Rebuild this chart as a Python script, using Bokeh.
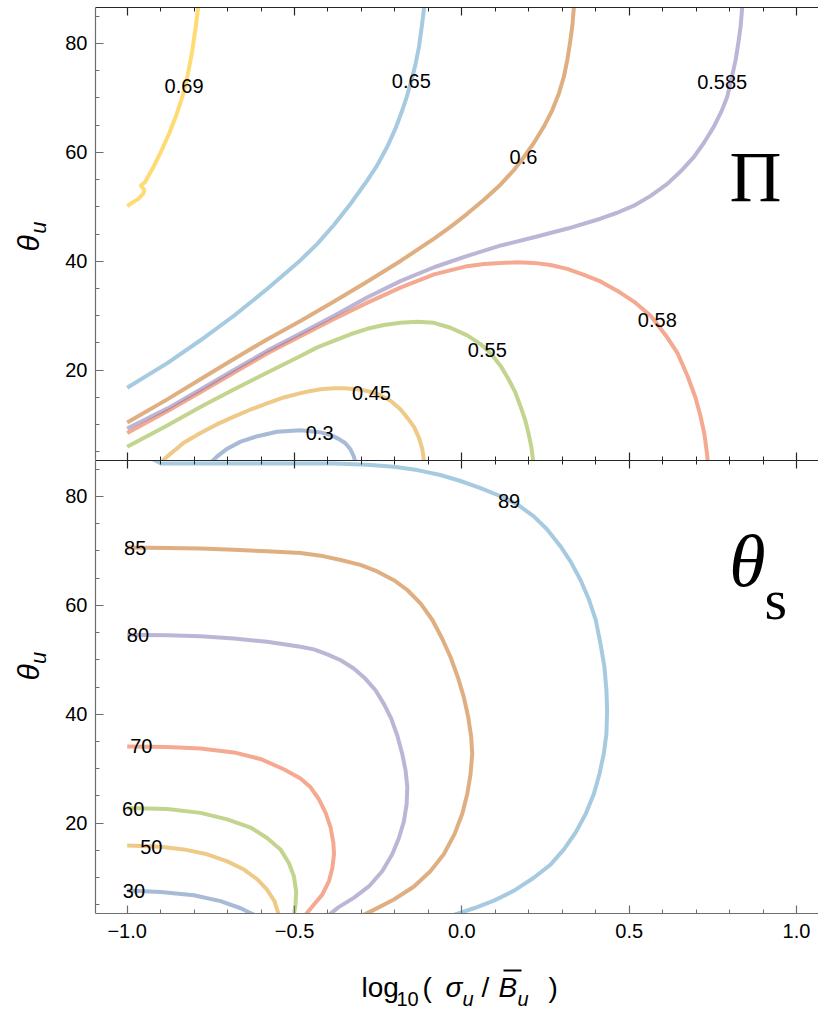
import numpy as np
from bokeh.plotting import figure
from bokeh.layouts import column, row
from bokeh.models import (FixedTicker, CustomJSTickFormatter, LinearAxis, Label,
                          Range1d)
from bokeh.core.properties import value
from bokeh.embed import file_html
from bokeh.resources import INLINE

# ---------------------------------------------------------------------------
# Contour lines of Pi over (log10(sigma_u / B_u), theta_u)
# ---------------------------------------------------------------------------
pi_030_x = [-0.761, -0.731, -0.701, -0.661, -0.611, -0.552, -0.482, -0.452, -0.422,
            -0.392, -0.368, -0.348, -0.333, -0.323, -0.315]
pi_030_y = [2.4, 4.2, 5.6, 6.9, 7.9, 8.7, 9.0, 8.8, 8.6, 8.1, 7.4, 6.6, 5.5, 4.2, 2.4]

pi_045_x = [-0.910, -0.880, -0.831, -0.781, -0.731, -0.681, -0.631, -0.582, -0.532,
            -0.482, -0.452, -0.422, -0.383, -0.353, -0.313, -0.283, -0.248, -0.213,
            -0.183, -0.163, -0.143, -0.128, -0.118, -0.111]
pi_045_y = [2.4, 4.2, 6.7, 8.5, 10.1, 11.5, 12.8, 13.9, 15.0, 15.8, 16.2, 16.5, 16.7,
            16.7, 16.5, 16.2, 15.5, 14.4, 12.8, 11.3, 9.6, 7.6, 5.5, 2.4]

pi_055_x = [-1.000, -0.879, -0.780, -0.680, -0.581, -0.482, -0.432, -0.383, -0.333,
            -0.283, -0.233, -0.183, -0.133, -0.084, -0.034, 0.016, 0.056, 0.086,
            0.116, 0.140, 0.160, 0.175, 0.190, 0.200, 0.208, 0.215]
pi_055_y = [5.95, 9.9, 13.3, 16.5, 19.6, 22.6, 24.2, 25.4, 26.6, 27.6, 28.3, 28.7,
            28.9, 28.7, 27.8, 26.4, 24.8, 23.1, 20.8, 18.3, 15.9, 13.4, 10.7, 8.2,
            5.8, 2.4]

pi_058_x = [-1.000, -0.879, -0.780, -0.680, -0.581, -0.481, -0.382, -0.282, -0.182,
            -0.083, 0.016, 0.066, 0.116, 0.166, 0.215, 0.265, 0.315, 0.365, 0.414,
            0.464, 0.514, 0.564, 0.614, 0.644, 0.674, 0.698, 0.713, 0.725, 0.733,
            0.736]
pi_058_y = [8.5, 12.5, 16.0, 19.6, 23.1, 26.3, 29.4, 32.4, 35.2, 37.6, 39.1, 39.5,
            39.7, 39.8, 39.7, 39.3, 38.6, 37.5, 36.3, 34.6, 32.6, 30.0, 26.0, 23.2,
            19.0, 15.0, 11.6, 8.2, 4.5, 2.1]

pi_0585_x = [-1.000, -0.879, -0.780, -0.680, -0.581, -0.481, -0.382, -0.282, -0.182,
             -0.083, 0.017, 0.117, 0.216, 0.316, 0.414, 0.464, 0.514, 0.564, 0.614,
             0.654, 0.693, 0.723, 0.753, 0.775, 0.793, 0.806, 0.818, 0.826, 0.833,
             0.838]
pi_0585_y = [9.3, 13.0, 16.5, 20.1, 23.6, 26.8, 30.0, 33.4, 36.4, 38.9, 41.0, 42.9,
             44.4, 46.0, 47.8, 48.9, 50.2, 52.0, 54.2, 56.5, 59.1, 61.7, 64.7, 67.4,
             70.2, 73.6, 76.9, 80.0, 83.1, 86.8]

pi_060_x = [-1.000, -0.879, -0.780, -0.680, -0.581, -0.481, -0.382, -0.282, -0.182,
            -0.084, -0.034, 0.016, 0.066, 0.116, 0.155, 0.185, 0.215, 0.245, 0.270,
            0.290, 0.305, 0.315, 0.323, 0.330, 0.335]
pi_060_y = [10.4, 14.7, 18.4, 22.1, 25.7, 29.1, 32.6, 36.3, 40.1, 44.1, 46.3, 48.7,
            51.3, 54.1, 56.7, 59.1, 61.7, 64.7, 67.7, 70.8, 73.9, 76.9, 80.0, 83.1,
            86.8]

pi_065_x = [-1.000, -0.880, -0.781, -0.681, -0.582, -0.482, -0.432, -0.383, -0.333,
            -0.283, -0.253, -0.223, -0.198, -0.178, -0.163, -0.150, -0.138, -0.128,
            -0.121, -0.116, -0.112]
pi_065_y = [16.8, 21.3, 25.5, 30.0, 34.9, 40.2, 43.2, 46.6, 50.5, 54.8, 57.6, 61.0,
            64.4, 67.7, 70.5, 73.3, 76.3, 79.4, 82.5, 84.9, 87.1]

pi_069_x = [-1.000, -0.981, -0.967, -0.951, -0.949, -0.959, -0.947, -0.924, -0.899,
            -0.875, -0.855, -0.835, -0.820, -0.805, -0.795, -0.787]
pi_069_y = [50.1, 50.9, 51.4, 52.5, 53.1, 53.9, 54.5, 57.0, 60.1, 63.4, 66.5, 70.2,
            73.9, 78.8, 83.1, 87.0]

pi_label_text = ["0.3", "0.45", "0.55", "0.58", "0.585", "0.6", "0.65", "0.69"]
pi_label_x = [-0.425, -0.270, 0.076, 0.584, 0.778, 0.184, -0.151, -0.830]
pi_label_y = [8.4, 15.8, 23.8, 29.3, 72.9, 59.1, 73.0, 72.1]

# ---------------------------------------------------------------------------
# Contour lines of theta_s (degrees)
# ---------------------------------------------------------------------------
ts_30_x = [-1.000, -0.900, -0.801, -0.721, -0.661, -0.617, -0.605]
ts_30_y = [7.65, 7.4, 6.8, 5.7, 4.4, 3.1, 2.5]

ts_50_x = [-1.000, -0.900, -0.831, -0.761, -0.701, -0.651, -0.611, -0.582, -0.560,
           -0.547, -0.545]
ts_50_y = [15.9, 15.7, 15.2, 14.3, 13.0, 11.5, 9.7, 7.8, 5.7, 3.2, 2.5]

ts_60_x = [-1.000, -0.880, -0.781, -0.701, -0.631, -0.582, -0.542, -0.517, -0.502,
           -0.495, -0.497, -0.502, -0.503]
ts_60_y = [22.8, 22.6, 21.9, 20.7, 19.2, 17.3, 15.2, 12.7, 10.3, 7.5, 5.1, 3.1, 2.5]

ts_70_x = [-1.000, -0.880, -0.781, -0.681, -0.602, -0.532, -0.482, -0.452, -0.427,
           -0.407, -0.392, -0.384, -0.382, -0.387, -0.397, -0.417, -0.442, -0.467,
           -0.477]
ts_70_y = [34.1, 34.0, 33.7, 33.0, 31.8, 29.9, 28.2, 26.6, 24.4, 21.9, 19.2, 16.4,
           14.3, 11.8, 9.4, 6.9, 5.1, 3.2, 2.5]

ts_80_x = [-1.000, -0.880, -0.781, -0.681, -0.582, -0.482, -0.442, -0.402, -0.362,
           -0.323, -0.288, -0.258, -0.233, -0.211, -0.193, -0.178, -0.168, -0.163,
           -0.165, -0.173, -0.188, -0.208, -0.238, -0.278, -0.323, -0.368, -0.397,
           -0.415]
ts_80_y = [54.6, 54.5, 54.3, 53.9, 53.3, 52.4, 51.9, 51.0, 49.9, 48.4, 46.5, 44.4,
           41.9, 39.2, 36.1, 32.7, 29.6, 26.6, 23.5, 20.4, 17.3, 14.3, 11.2, 8.4,
           6.3, 4.6, 3.2, 2.5]

ts_85_x = [-1.000, -0.880, -0.781, -0.681, -0.582, -0.482, -0.422, -0.362, -0.303,
           -0.253, -0.203, -0.163, -0.123, -0.088, -0.059, -0.034, -0.012, 0.006,
           0.019, 0.028, 0.031, 0.026, 0.016, 0.001, -0.022, -0.054, -0.094, -0.143,
           -0.203, -0.263, -0.293, -0.315]
ts_85_y = [70.6, 70.5, 70.4, 70.2, 69.9, 69.6, 69.1, 68.3, 67.4, 66.2, 64.6, 62.8,
           60.3, 57.3, 53.9, 50.5, 46.8, 43.1, 39.5, 35.8, 32.7, 29.0, 25.3, 21.7,
           18.0, 14.3, 11.2, 8.4, 6.0, 4.1, 3.2, 2.5]

ts_89_x = [-0.930, -0.899, -0.700, -0.482, -0.383, -0.283, -0.203, -0.133, -0.064,
           -0.004, 0.056, 0.116, 0.166, 0.215, 0.255, 0.295, 0.325, 0.355, 0.380,
           0.400, 0.414, 0.426, 0.432, 0.434, 0.432, 0.424, 0.411, 0.394, 0.370,
           0.340, 0.305, 0.265, 0.215, 0.155, 0.096, 0.036, -0.024, -0.060]
ts_89_y = [87.0, 86.0, 86.0, 86.0, 86.0, 85.8, 85.4, 84.8, 83.9, 82.8, 81.5, 80.0,
           78.5, 76.3, 73.9, 70.8, 68.0, 64.6, 61.0, 57.3, 53.0, 48.7, 44.4, 40.7,
           36.4, 32.7, 29.0, 25.3, 21.7, 18.3, 15.2, 12.4, 10.0, 7.6, 5.8, 4.4, 3.2,
           2.5]

ts_label_text = ["30", "50", "60", "70", "80", "85", "89"]
ts_label_x = [-0.980, -0.928, -0.982, -0.958, -0.968, -0.976, 0.141]
ts_label_y = [7.5, 15.7, 22.7, 34.1, 54.5, 70.5, 79.1]

# axis ticks
x_major = [-1.0, -0.5, 0.0, 0.5, 1.0]
x_minor = [-0.9, -0.8, -0.7, -0.6, -0.4, -0.3, -0.2, -0.1,
           0.1, 0.2, 0.3, 0.4, 0.6, 0.7, 0.8, 0.9]
y_major = [20, 40, 60, 80]
y_minor = [5, 10, 15, 25, 30, 35, 45, 50, 55, 65, 70, 75, 85]

# line colours, one per contour level (lowest to highest)
palette = ["#5E81B5", "#E19C24", "#8FB032", "#EB6235",
           "#8778B3", "#C56E1A", "#5D9EC7", "#FFBF00"]

pi_lines = [(pi_030_x, pi_030_y), (pi_045_x, pi_045_y), (pi_055_x, pi_055_y),
            (pi_058_x, pi_058_y), (pi_0585_x, pi_0585_y), (pi_060_x, pi_060_y),
            (pi_065_x, pi_065_y), (pi_069_x, pi_069_y)]
ts_lines = [(ts_30_x, ts_30_y), (ts_50_x, ts_50_y), (ts_60_x, ts_60_y),
            (ts_70_x, ts_70_y), (ts_80_x, ts_80_y), (ts_85_x, ts_85_y),
            (ts_89_x, ts_89_y)]

# ---------------------------------------------------------------------------
# layout constants (pixels)
# ---------------------------------------------------------------------------
SANS = "Liberation Sans"
SERIF = "Liberation Serif"
X_START, X_END = -1.0947, 1.0657
Y_START, Y_END = 3.4377, 86.5623
PAGE_W = 818
STRIP_W = 55          # column holding the rotated y titles
PANEL_W = PAGE_W - STRIP_W
AXIS_PAD = 40         # room for the y tick labels
FRAME_H = 453
TOP_GAP = 7
LOW_GAP = 44          # room for the x tick labels
TOP_H = TOP_GAP + FRAME_H
LOW_H = FRAME_H + LOW_GAP
TITLE_H = 1011 - TOP_H - LOW_H
DARK = "#262626"
GRAY = "#6e6e6e"

blank_fmt = CustomJSTickFormatter(code="return '';")
x_fmt = CustomJSTickFormatter(
    code="return (tick < 0 ? '\u2212' : '') + Math.abs(tick).toFixed(1);")


def make_axis(ticker, color, formatter=None, standoff=8):
    ax = LinearAxis(ticker=ticker, axis_line_color=color, axis_line_width=1.2,
                    major_tick_line_color=color, minor_tick_line_color=color,
                    major_tick_line_width=1.2, minor_tick_line_width=1.0,
                    major_tick_in=8, major_tick_out=0,
                    minor_tick_in=4, minor_tick_out=0)
    if formatter is None:
        ax.formatter = blank_fmt
        ax.major_label_text_font_size = "0px"
        ax.major_label_standoff = 0
    else:
        ax.formatter = formatter
        ax.major_label_text_font = SANS
        ax.major_label_text_font_size = "20px"
        ax.major_label_text_color = "black"
        ax.major_label_standoff = standoff
    return ax


def x_ticks():
    return FixedTicker(ticks=x_major, minor_ticks=x_minor)


def make_panel(height, border_top, border_bottom):
    p = figure(width=PANEL_W, height=height, output_backend="svg",
               toolbar_location=None,
               x_range=Range1d(X_START, X_END), y_range=Range1d(Y_START, Y_END),
               x_axis_location=None, y_axis_location=None,
               min_border_left=AXIS_PAD, min_border_right=0,
               min_border_top=border_top, min_border_bottom=border_bottom,
               outline_line_color=None, background_fill_color="white",
               border_fill_color="white")
    p.grid.visible = False
    y_ticks = FixedTicker(ticks=y_major, minor_ticks=y_minor)
    y_fmt = CustomJSTickFormatter(code="return tick.toFixed(0);")
    p.add_layout(make_axis(y_ticks, GRAY, formatter=y_fmt), "left")
    return p


def make_blank(width, height):
    # a plain canvas whose coordinates are pixels measured from its top-left
    p = figure(width=width, height=height, output_backend="svg",
               toolbar_location=None,
               x_range=Range1d(0, width), y_range=Range1d(height, 0),
               x_axis_location=None, y_axis_location=None, min_border=0,
               outline_line_color=None, background_fill_color="white",
               border_fill_color="white")
    p.grid.visible = False
    return p


def draw_contours(p, lines, lab_x, lab_y, lab_text):
    for (xs, ys), c in zip(lines, palette):
        p.line(xs, ys, line_color=c, line_alpha=0.55, line_width=4,
               line_join="round", line_cap="butt")
    p.text(x=lab_x, y=lab_y, text=lab_text, text_font=value(SANS),
           text_font_size="20px", text_color="black", text_align="center",
           text_baseline="middle")


def add_label(p, x, y, text, size, font=SANS, style="normal", angle=0.0,
              align="left"):
    p.add_layout(Label(x=x, y=y, text=text, text_font=font,
                       text_font_size=size, text_font_style=style,
                       text_color="black", angle=angle, text_align=align,
                       text_baseline="middle"))


def frame_y(py, frame_top):
    """data y of a pixel row, measured from the top of the panel canvas"""
    return Y_END - (py - frame_top) * (Y_END - Y_START) / FRAME_H


def frame_x(px):
    """data x of a pixel column, measured from the left of the page"""
    left = STRIP_W + AXIS_PAD
    return X_START + (px - left) * (X_END - X_START) / (PAGE_W - left)


def add_y_title(strip, mid):
    add_label(strip, 28, mid + 6, "\u03b8", "30px", style="italic",
              angle=np.pi / 2, align="center")
    add_label(strip, 37.5, mid - 10, "u", "22px", style="italic",
              angle=np.pi / 2, align="center")


# ---- upper panel: Pi ------------------------------------------------------
top = make_panel(TOP_H, TOP_GAP, 0)
top.add_layout(make_axis(x_ticks(), DARK), "above")
top.add_layout(make_axis(x_ticks(), DARK), "below")
draw_contours(top, pi_lines, pi_label_x, pi_label_y, pi_label_text)
add_label(top, frame_x(755), frame_y(176, TOP_GAP), "\u03a0", "72px", font=SERIF,
          align="center")

top_strip = make_blank(STRIP_W, TOP_H)
add_y_title(top_strip, TOP_GAP + FRAME_H / 2)

# ---- lower panel: theta_s -------------------------------------------------
low = make_panel(LOW_H, 0, LOW_GAP)
low.add_layout(make_axis(x_ticks(), DARK), "above")
low.add_layout(make_axis(x_ticks(), GRAY, formatter=x_fmt, standoff=10), "below")
draw_contours(low, ts_lines, ts_label_x, ts_label_y, ts_label_text)
add_label(low, frame_x(747), frame_y(560 - TOP_H, 0), "\u03b8", "74px",
          font=SERIF, style="italic", align="center")
add_label(low, frame_x(764), frame_y(599 - TOP_H, 0), "s", "58px", font=SERIF)

low_strip = make_blank(STRIP_W, LOW_H)
add_y_title(low_strip, FRAME_H / 2)

# ---- x title: log10( sigma_u / Bbar_u ) -----------------------------------
title = make_blank(PAGE_W, TITLE_H)
t0 = TOP_H + LOW_H          # page row of the title canvas top
main_y, sub_y = 987 - t0, 998 - t0
add_label(title, 361, main_y, "log", "28px")
add_label(title, 396, sub_y, "10", "20px")
add_label(title, 422, main_y, "(", "28px")
add_label(title, 445, main_y, "\u03c3", "28px", style="italic")
add_label(title, 462, sub_y, "u", "20px", style="italic")
add_label(title, 481, main_y, "/", "28px")
add_label(title, 498, main_y, "B", "28px", style="italic")
add_label(title, 517, sub_y, "u", "20px", style="italic")
add_label(title, 548, main_y, ")", "28px")
# bar over the B
title.segment(x0=[503], y0=[970 - t0], x1=[521], y1=[970 - t0],
              line_color="black", line_width=2)

layout = column(row(top_strip, top, spacing=0),
                row(low_strip, low, spacing=0),
                title, spacing=0)
open("out.html", "w").write(file_html(layout, INLINE))
